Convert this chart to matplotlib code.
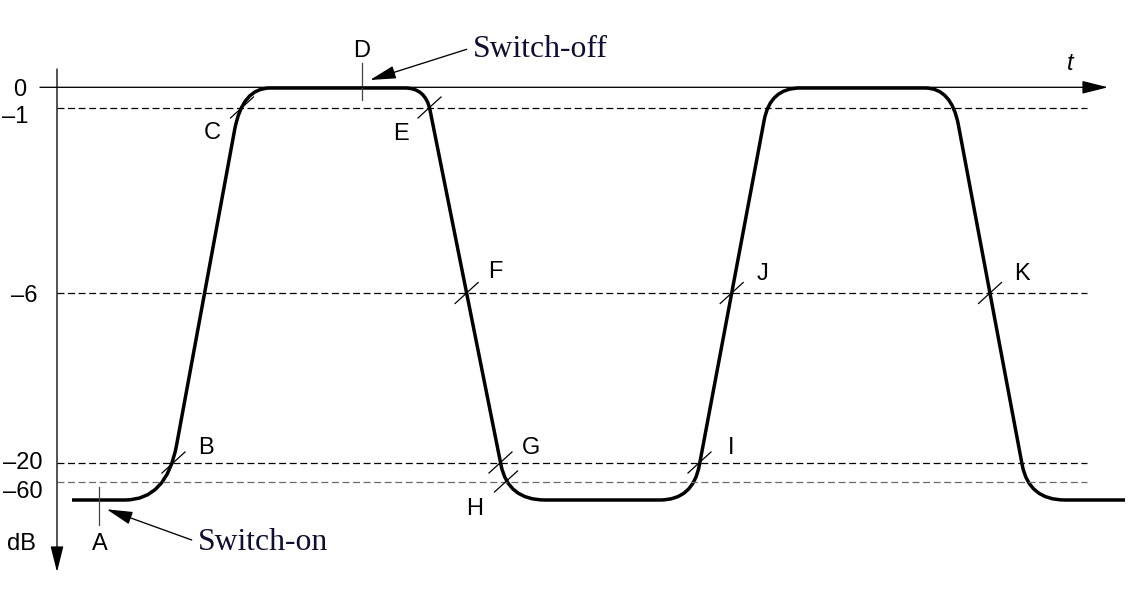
import matplotlib.pyplot as plt
from matplotlib.path import Path
from matplotlib.patches import PathPatch

plt.rcParams['lines.scale_dashes'] = False

# Levels (dB) and their row on the drawing
level_labels = ['0', '–1', '–6', '–20', '–60']
level_rows = [88, 107.5, 293, 462.5, 481.5]
floor_row = 500

# Waveform: vertices (time, row) with path codes
wave_t = [72, 125, 166.5, 176.6, 234.6, 242.3, 270, 405, 425.5, 430, 501, 508, 545,
          660, 693, 699.4, 764.2, 770.2, 800, 925, 951.5, 958.4, 1022.2, 1028.8, 1065, 1125]
wave_r = [500, 500, 500, 445, 130, 88, 88, 88, 88, 110, 465, 500, 500,
          500, 500, 465, 120, 88, 88, 88, 88, 125, 465, 500, 500, 500]
wave_codes = ['M', 'L', 'C', 'C', 'L', 'C', 'C', 'L', 'C', 'C', 'L', 'C', 'C',
              'L', 'C', 'C', 'L', 'C', 'C', 'L', 'C', 'C', 'L', 'C', 'C', 'L']

# Marked crossings: name, time, level index
cross_names = ['B', 'C', 'E', 'F', 'G', 'H', 'I', 'J', 'K']
cross_t = [173.5, 242, 429.5, 466.6, 500.5, 506, 699.5, 731.7, 990]
cross_lvl = [3, 1, 1, 2, 3, 4, 3, 2, 2]

# Switch-on / switch-off instants
event_names = ['A', 'D']
event_t = [99, 362]

# label offsets (layout)
cross_off = {'B': (32, -17), 'C': (-30, 23), 'E': (-28, 24), 'F': (29, -23),
             'G': (31, -17), 'H': (-31, 25), 'I': (32, -17), 'J': (31, -21), 'K': (32, -22)}

fig = plt.figure(figsize=(11.38, 5.98), dpi=100)
ax = fig.add_axes([0, 0, 1, 1])
ax.set_xlim(0, 1138)
ax.set_ylim(598, 0)
ax.axis('off')

sans = 'Liberation Sans'
serif = 'Liberation Serif'
fs = 17

# dashed level lines
for i, r in enumerate(level_rows[1:], start=1):
    col = '#6a6a6a' if i == 4 else 'black'
    ax.plot([57, 1087], [r, r], color=col, lw=0.9, dashes=(5, 2.6))

# axes with arrows
arr = dict(arrowstyle='-|>,head_length=0.8,head_width=0.2', color='black', lw=0.95,
           shrinkA=0, shrinkB=0, mutation_scale=20)
ax.annotate('', xy=(57, 572), xytext=(57, 69), arrowprops=arr)
ax.annotate('', xy=(1108, 87.3), xytext=(40, 87.3), arrowprops=arr)

# level labels
label_x = [20, 15, 24, 22.5, 22.5]
label_dy = [0, 7, 0, -2, 8.5]
for lab, r, x, dy in zip(level_labels, level_rows, label_x, label_dy):
    ax.text(x, r + dy + 8.5, lab, ha='center', va='baseline', fontsize=fs, family=sans)
ax.text(21.7, 541.7 + 8.5, 'dB', ha='center', va='baseline', fontsize=fs, family=sans)
ax.text(1070, 61.7 + 8.5, 't', ha='center', va='baseline', fontsize=fs, family=sans,
        style='italic')

# waveform
code_map = {'M': Path.MOVETO, 'L': Path.LINETO, 'C': Path.CURVE3}
path = Path(list(zip(wave_t, wave_r)), [code_map[c] for c in wave_codes])
ax.add_patch(PathPatch(path, facecolor='none', edgecolor='black', lw=2.5,
                       capstyle='butt', joinstyle='round'))

# crossing ticks and labels
for name, t, li in zip(cross_names, cross_t, cross_lvl):
    r = level_rows[li]
    ax.plot([t - 11.5, t + 11.5], [r + 10.5, r - 10.5], color='black', lw=0.9)
    dx, dy = cross_off[name]
    ax.text(t + dx, r + dy + 8.5, name, ha='center', va='baseline', fontsize=fs, family=sans)

# event ticks
ax.plot([event_t[0]] * 2, [487, 525], color='#444444', lw=0.9)
ax.text(event_t[0] + 1, 541.7 + 8.5, event_names[0], ha='center', va='baseline',
        fontsize=fs, family=sans)
ax.plot([event_t[1]] * 2, [63, 100], color='#444444', lw=0.9)
ax.text(event_t[1], 48.7 + 8.5, event_names[1], ha='center', va='baseline',
        fontsize=fs, family=sans)

# switch annotations
navy = '#0e0e30'
ax.text(472.7, 57.3, 'Switch-off', ha='left', va='baseline', fontsize=22.8,
        family=serif, color=navy)
ax.annotate('', xy=(370, 80), xytext=(466.7, 49.3), arrowprops=arr)
ax.text(198.3, 550, 'Switch-on', ha='left', va='baseline', fontsize=22.8,
        family=serif, color=navy)
ax.annotate('', xy=(106.7, 509.3), xytext=(191.7, 540), arrowprops=arr)

fig.savefig('out.png', dpi=100)
